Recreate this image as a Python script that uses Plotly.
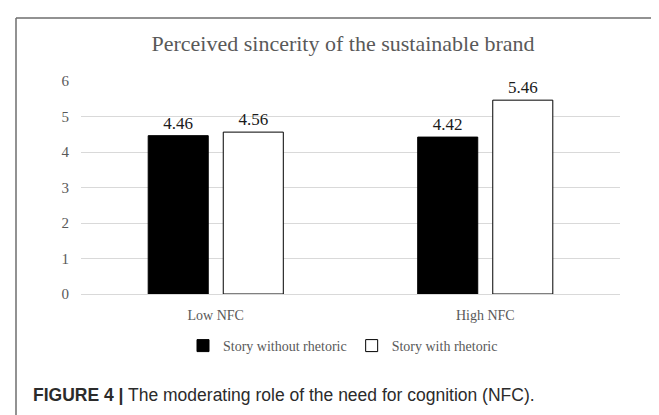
import plotly.graph_objects as go

categories = ["Low NFC", "High NFC"]
without_rhetoric = [4.46, 4.42]
with_rhetoric = [4.56, 5.46]
series_names = ["Story without rhetoric", "Story with rhetoric"]
y_ticks = [0, 1, 2, 3, 4, 5, 6]

W, H = 659, 415
L, R, T, B = 73, 47, 73, 129
pw, ph = W - L - R, H - T - B

def px(x):
    return (x - L) / pw

def py(y):
    return (H - B - y) / ph

serif = "Liberation Serif, Times New Roman, serif"
gray = "#595959"

fig = go.Figure()
fig.add_trace(go.Bar(
    x=categories, y=without_rhetoric, name=series_names[0],
    marker=dict(color="black", line=dict(color="black", width=1)),
    text=[f"{v:.2f}" for v in without_rhetoric], textposition="outside",
    textfont=dict(family=serif, size=17, color="#1a1a1a"), cliponaxis=False,
))
fig.add_trace(go.Bar(
    x=categories, y=with_rhetoric, name=series_names[1],
    marker=dict(color="white", line=dict(color="black", width=1)),
    text=[f"{v:.2f}" for v in with_rhetoric], textposition="outside",
    textfont=dict(family=serif, size=17, color="#1a1a1a"), cliponaxis=False,
))

fig.update_layout(
    width=W, height=H,
    margin=dict(l=L, r=R, t=T, b=B),
    paper_bgcolor="white", plot_bgcolor="white",
    barmode="group", bargap=0.443, bargroupgap=0.2,
    title=dict(text="Perceived sincerity of the sustainable brand",
               font=dict(family=serif, size=22, color=gray),
               x=px(335), xref="paper", xanchor="center",
               y=1 - 35 / H, yanchor="middle"),
    font=dict(family=serif, color=gray),
    showlegend=True,
    legend=dict(orientation="h", x=px(335), xanchor="center", y=py(338), yanchor="middle",
                font=dict(family=serif, size=14, color=gray), traceorder="normal",
                itemwidth=30, bgcolor="rgba(0,0,0,0)"),
    xaxis=dict(showgrid=False, showline=True, linecolor="#d9d9d9", linewidth=1,
               tickfont=dict(family=serif, size=14, color=gray), ticks="outside",
               ticklen=8, tickcolor="rgba(0,0,0,0)"),
    yaxis=dict(range=[0, 6], tickvals=y_ticks, showgrid=True, gridcolor="#d9d9d9",
               gridwidth=1, zeroline=False, showline=False,
               tickfont=dict(family=serif, size=15, color=gray), ticks="outside",
               ticklen=8, tickcolor="rgba(0,0,0,0)"),
    shapes=[
        dict(type="line", xref="paper", yref="paper", x0=px(8), x1=px(700), y0=py(10), y1=py(10),
             line=dict(color="#6e6e6e", width=1.5)),
        dict(type="line", xref="paper", yref="paper", x0=px(8), x1=px(8), y0=py(10), y1=py(430),
             line=dict(color="#6e6e6e", width=1.5)),
    ],
    annotations=[
        dict(text="<b>FIGURE 4 |</b> The moderating role of the need for cognition (NFC).",
             xref="paper", yref="paper", x=px(23), y=py(387), xanchor="left", yanchor="middle",
             showarrow=False, font=dict(family="Liberation Sans, Arial, sans-serif", size=17.5, color="#2b2b2b")),
    ],
)

fig.write_html("out.html")
